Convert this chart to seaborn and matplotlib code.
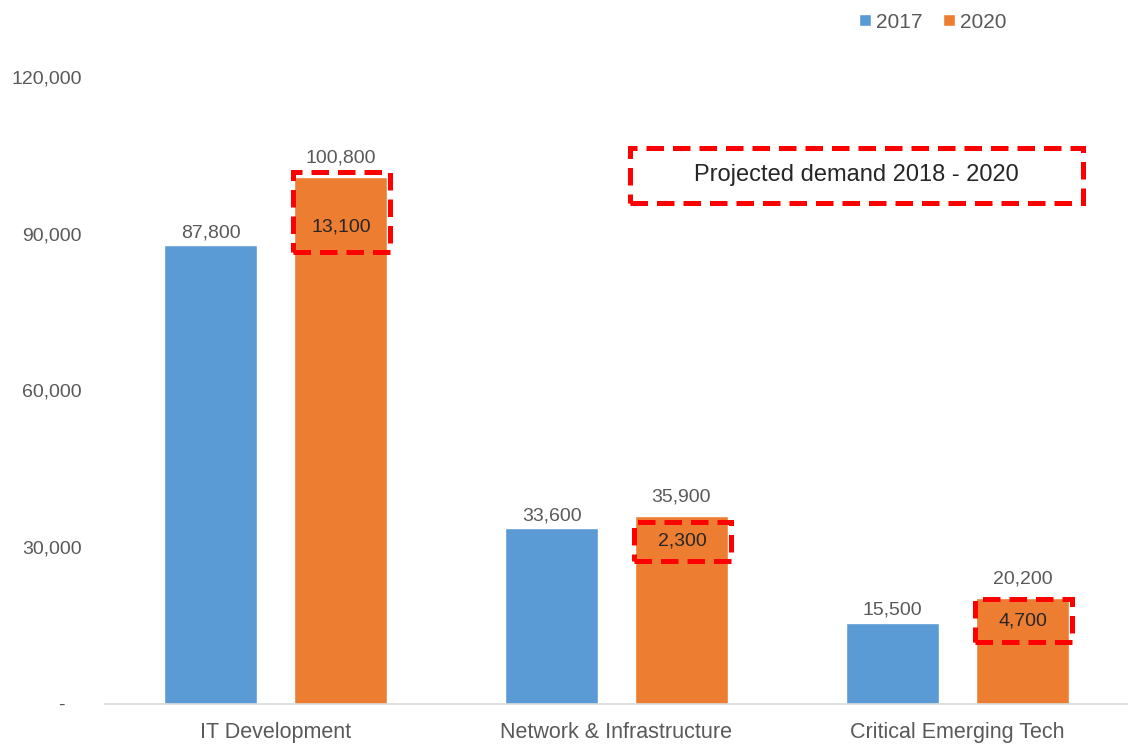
import matplotlib
matplotlib.use("Agg")
import matplotlib.pyplot as plt
from matplotlib.patches import Rectangle
import seaborn as sns
import pandas as pd

# ---- data ----
categories = ["IT Development", "Network & Infrastructure", "Critical Emerging Tech"]
years = ["2017", "2020"]
values_2017 = [87800, 33600, 15500]
values_2020 = [100800, 35900, 20200]
projected_increase = [13100, 2300, 4700]
y_ticks = [0, 30000, 60000, 90000, 120000]
y_tick_labels = ["-   ", "30,000", "60,000", "90,000", "120,000"]
box_title = "Projected demand 2018 - 2020"

df = pd.DataFrame({
    "category": categories * 2,
    "year": [years[0]] * 3 + [years[1]] * 3,
    "value": values_2017 + values_2020,
})

# ---- style ----
blue = "#5B9BD5"
orange = "#ED7D31"
grey = "#595959"
red = "#FF0000"
font = ["Liberation Sans", "DejaVu Sans"]

sns.set_theme(style="white")
plt.rcParams["font.family"] = font

fig = plt.figure(figsize=(11.28, 7.48), dpi=100)
ax = fig.add_axes([105 / 1128, 1 - 704 / 748, 1 - 105 / 1128, (704 - 77) / 748])

sns.barplot(data=df, x="category", y="value", hue="year", order=categories,
            hue_order=years, palette={"2017": blue, "2020": orange},
            width=0.762, gap=0.29, saturation=1, ax=ax, errorbar=None)

ax.set_xlim(-0.5, 2.5)
ax.set_ylim(0, 120000)
ax.set_yticks(y_ticks)
ax.set_yticklabels(y_tick_labels)
ax.tick_params(axis="y", length=0, pad=16.5, labelsize=14, labelcolor=grey)
ax.tick_params(axis="x", length=0, pad=13, labelsize=15.5, labelcolor=grey)
ax.set_xlabel("")
ax.set_ylabel("")
for s in ["top", "right", "left"]:
    ax.spines[s].set_visible(False)
ax.spines["bottom"].set_color("#D9D9D9")
ax.spines["bottom"].set_linewidth(1.2)

# value labels
c17, c20 = ax.containers[0], ax.containers[1]
ax.bar_label(c17, labels=[f"{v:,}" for v in values_2017], padding=3,
             fontsize=14, color=grey)
ax.bar_label(c20, labels=[f"{v:,}" for v in values_2020], padding=8,
             fontsize=14, color=grey)

# dashed boxes around projected increase
box_tops = [101800, 34800, 20100]
box_bottoms = [86500, 27400, 11900]
label_y = [91300, 31200, 15900]
for bar, inc, top, bot, ly in zip(c20.patches, projected_increase, box_tops, box_bottoms, label_y):
    x0 = bar.get_x() - 0.005
    w = bar.get_width() + 0.015
    ax.add_patch(Rectangle((x0, bot), w, top - bot, fill=False, edgecolor=red,
                           linewidth=3.6, linestyle=(0, (3.5, 1.8)), zorder=5,
                           clip_on=False))
    ax.text(x0 + w / 2, ly, f"{inc:,}", ha="center", va="center", fontsize=14,
            color="#262626", zorder=6)

# projected demand box
bx0, bx1 = 1.041, 2.368
by0, by1 = 95900, 106400
ax.add_patch(Rectangle((bx0, by0), bx1 - bx0, by1 - by0, fill=False, edgecolor=red,
                       linewidth=3.6, linestyle=(0, (3.5, 1.8)), zorder=5, clip_on=False))
ax.text((bx0 + bx1) / 2, (by0 + by1) / 2, box_title, ha="center", va="center",
        fontsize=17, color="#262626")

# legend
sns.move_legend(ax, "center", bbox_to_anchor=(933 / 1128, 1 - 22 / 748),
                bbox_transform=fig.transFigure, ncol=2, frameon=False, title=None,
                fontsize=15, handlelength=0.55, handleheight=0.55,
                handletextpad=0.25, columnspacing=1.0, labelcolor=grey)

fig.savefig("out.png", dpi=100)
